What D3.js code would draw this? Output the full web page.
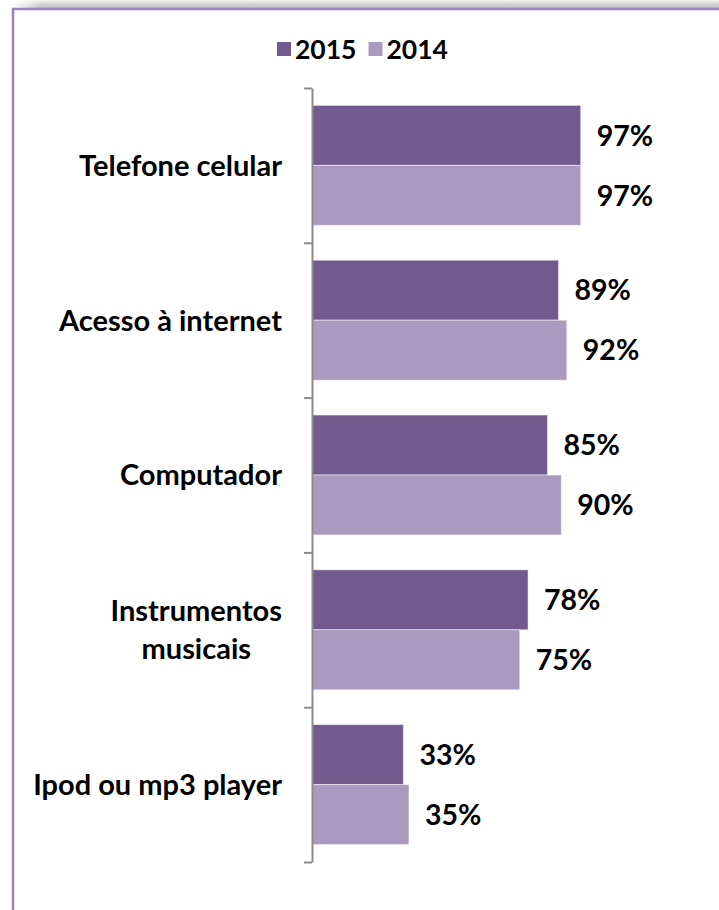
<!DOCTYPE html>
<html><head><meta charset="utf-8">
<script src="https://cdn.jsdelivr.net/npm/d3@7"></script>
<style>body{margin:0;background:#fff;}svg{display:block;}</style>
</head><body>
<svg id="c" width="719" height="910"></svg>
<script>
const categories = ["Telefone celular", "Acesso à internet", "Computador", "Instrumentos\nmusicais", "Ipod ou mp3 player"];
const series = ["2015", "2014"];
const values2015 = [97, 89, 85, 78, 33];
const values2014 = [97, 92, 90, 75, 35];
const colors = ["#725a8f", "#aa9abf"];

const svg = d3.select("#c");
const font = "Lato, 'Open Sans', sans-serif";

// frame shadow
const defs = svg.append("defs");
const g1 = defs.append("linearGradient").attr("id", "sh").attr("x1", 0).attr("y1", 0).attr("x2", 0).attr("y2", 1);
g1.append("stop").attr("offset", "0").attr("stop-color", "#f4f4f4");
g1.append("stop").attr("offset", "0.6").attr("stop-color", "#cfcfcf");
g1.append("stop").attr("offset", "1").attr("stop-color", "#bdbdbd");
const g2 = defs.append("linearGradient").attr("id", "shx").attr("x1", 0).attr("y1", 0).attr("x2", 1).attr("y2", 0);
g2.append("stop").attr("offset", "0").attr("stop-color", "#fff").attr("stop-opacity", 1);
g2.append("stop").attr("offset", "1").attr("stop-color", "#fff").attr("stop-opacity", 0);
svg.append("rect").attr("x", 12).attr("y", 0).attr("width", 710).attr("height", 8).attr("fill", "url(#sh)");
svg.append("rect").attr("x", 12).attr("y", 0).attr("width", 30).attr("height", 8).attr("fill", "url(#shx)");
svg.append("rect").attr("x", 13).attr("y", 9).attr("width", 720).attr("height", 920)
  .attr("fill", "#fff").attr("stroke", "#9a85c1").attr("stroke-width", 2.5);

const x = d3.scaleLinear().domain([0, 100]).range([312, 589]);
const y = d3.scaleBand().domain(categories).range([88, 862]).paddingInner(0).paddingOuter(0);
const ys = d3.scaleBand().domain(series).range([0, y.bandwidth()]).paddingInner(0).paddingOuter(0.29);

const data = [];
categories.forEach((c, i) => {
  data.push({c, s: "2015", v: values2015[i]});
  data.push({c, s: "2014", v: values2014[i]});
});

svg.append("g").selectAll("rect").data(data).join("rect")
  .attr("x", x(0))
  .attr("y", d => y(d.c) + ys(d.s))
  .attr("width", d => x(d.v) - x(0))
  .attr("height", ys.bandwidth())
  .attr("fill", d => colors[series.indexOf(d.s)])
  .attr("stroke", "#ffffff").attr("stroke-opacity", 0.5).attr("stroke-width", 1);

svg.append("g").selectAll("text").data(data).join("text")
  .attr("x", d => x(d.v) + 16)
  .attr("y", d => y(d.c) + ys(d.s) + ys.bandwidth() / 2)
  .attr("dy", "0.36em")
  .attr("font-family", font).attr("font-weight", "bold").attr("font-size", 28.5)
  .attr("fill", "#000")
  .text(d => d.v + "%");

// axis
const ax = d3.scaleLinear().domain([0, categories.length]).range([88, 862]);
const axisG = svg.append("g").attr("transform", `translate(${x(0)},0)`)
  .call(d3.axisLeft(ax).tickValues(d3.range(categories.length + 1)).tickSize(8).tickSizeOuter(0).tickFormat(""));
axisG.selectAll("path,line").attr("stroke", "#8c8c8c").attr("stroke-width", 2);

// category labels
const lab = svg.append("g");
categories.forEach(c => {
  const lines = c.split("\n");
  const cy = y(c) + y.bandwidth() / 2;
  const lh = 38;
  const t = lab.append("text").attr("font-family", font).attr("font-weight", "bold").attr("font-size", 29).attr("fill", "#000");
  lines.forEach((ln, k) => {
    t.append("tspan").attr("y", cy + (k - (lines.length - 1) / 2) * lh).attr("dy", "0.36em").text(ln);
  });
  let maxW = 0;
  t.selectAll("tspan").each(function() { maxW = Math.max(maxW, this.getComputedTextLength()); });
  t.attr("text-anchor", "middle").selectAll("tspan").attr("x", 282 - maxW / 2);
});

// legend
const leg = svg.append("g");
let lx = 277;
series.forEach((s, i) => {
  leg.append("rect").attr("x", lx).attr("y", 42).attr("width", 14).attr("height", 14).attr("fill", colors[i]);
  const t = leg.append("text").attr("x", lx + 18).attr("y", 49).attr("dy", "0.36em")
    .attr("font-family", font).attr("font-weight", "bold").attr("font-size", 26.5).text(s);
  lx += 18 + t.node().getComputedTextLength() + 12;
});
</script>
</body></html>
